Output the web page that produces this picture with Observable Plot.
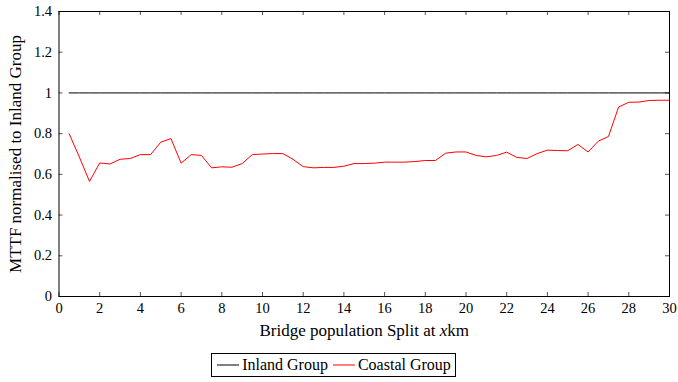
<!DOCTYPE html>
<html>
<head>
<meta charset="utf-8">
<script src="https://cdn.jsdelivr.net/npm/d3@7"></script>
<script src="https://cdn.jsdelivr.net/npm/@observablehq/plot@0.6"></script>
</head>
<body style="margin:0;background:#fff;font-family:'Liberation Serif'">
<div id="wrap" style="width:678px;font-family:'Liberation Serif'">
  <div id="chart"></div>
  <div id="legend" style="margin:13px 0 0 211px;width:243px;height:22px;border:1px solid #000;font-family:'Liberation Serif';display:flex;align-items:center;justify-content:center;font-size:16px;color:#000;gap:4px"></div>
</div>
<script>
const splitKm = [0.5, 1, 1.5, 2, 2.5, 3, 3.5, 4, 4.5, 5, 5.5, 6, 6.5, 7, 7.5, 8, 8.5, 9, 9.5, 10,
  10.5, 11, 11.5, 12, 12.5, 13, 13.5, 14, 14.5, 15, 15.5, 16, 16.5, 17, 17.5, 18, 18.5, 19, 19.5, 20,
  20.5, 21, 21.5, 22, 22.5, 23, 23.5, 24, 24.5, 25, 25.5, 26, 26.5, 27, 27.5, 28, 28.5, 29, 29.5, 30];
const inlandValues = splitKm.map(() => 1);
const coastalValues = [0.799, 0.685, 0.565, 0.656, 0.651, 0.674, 0.678, 0.697, 0.697, 0.758, 0.776, 0.655, 0.697, 0.693, 0.632, 0.637, 0.635, 0.653, 0.697, 0.700,
  0.702, 0.702, 0.674, 0.638, 0.632, 0.634, 0.634, 0.640, 0.653, 0.653, 0.655, 0.660, 0.660, 0.660, 0.663, 0.668, 0.668, 0.704, 0.710, 0.710,
  0.693, 0.686, 0.693, 0.709, 0.683, 0.678, 0.702, 0.719, 0.717, 0.716, 0.747, 0.710, 0.763, 0.786, 0.931, 0.954, 0.955, 0.963, 0.964, 0.964];
const seriesNames = ["Inland Group", "Coastal Group"];
const seriesColors = ["#000000", "#ff0000"];
const xTicks = [0, 2, 4, 6, 8, 10, 12, 14, 16, 18, 20, 22, 24, 26, 28, 30];
const yTicks = [0, 0.2, 0.4, 0.6, 0.8, 1, 1.2, 1.4];

const data = [];
splitKm.forEach((x, i) => {
  data.push({x, y: inlandValues[i], s: seriesNames[0]});
  data.push({x, y: coastalValues[i], s: seriesNames[1]});
});

const yTickLen = 4 / 203.6; // inward tick length in y units
const xTickLen = 4 / 20.37; // inward tick length in x units
const FONT = "Liberation Serif";

const chart = Plot.plot({
  width: 678,
  height: 340,
  marginTop: 11,
  marginBottom: 44,
  marginLeft: 58.5,
  marginRight: 9,
  style: { fontSize: "14.5px", color: "#000", background: "#fff" },
  x: { domain: [0, 30] },
  y: { domain: [0, 1.4] },
  color: { domain: seriesNames, range: seriesColors },
  marks: [
    Plot.ruleX(xTicks, { x: d => d, y1: 0, y2: yTickLen, stroke: "#555" }),
    Plot.ruleX(xTicks, { x: d => d, y1: 1.4 - yTickLen, y2: 1.4, stroke: "#555" }),
    Plot.ruleY(yTicks, { y: d => d, x1: 0, x2: xTickLen, stroke: "#555" }),
    Plot.ruleY(yTicks, { y: d => d, x1: 30 - xTickLen, x2: 30, stroke: "#555" }),
    Plot.line(data, { x: "x", y: "y", z: "s", stroke: "s", strokeWidth: 1 }),
    Plot.frame({ stroke: "#000", strokeWidth: 1 }),
    Plot.axisX({ ticks: xTicks, tickSize: 0, tickPadding: 6, fontSize: 14.5, tickFormat: d => String(d), label: null }),
    Plot.axisY({ ticks: yTicks, tickSize: 0, tickPadding: 7, fontSize: 14.5, tickFormat: d => String(d), label: null }),
    Plot.axisX({ ticks: [], tickSize: 0, fontSize: 17, label: "Bridge population Split at xkm",
      labelAnchor: "center", labelArrow: "none", labelOffset: 39 }),
    Plot.axisY({ ticks: [], tickSize: 0, fontSize: 17, label: "MTTF normalised to Inland Group",
      labelAnchor: "center", labelArrow: "none", labelOffset: 50 })
  ]
});
chart.setAttribute("font-family", FONT);
chart.style.fontFamily = FONT;
document.getElementById("chart").appendChild(chart);

d3.select(chart).selectAll("g, text, tspan").each(function() {
  this.setAttribute("font-family", FONT);
  this.style.fontFamily = FONT;
});

// italic x in the x-axis label
d3.select(chart).selectAll("text").each(function() {
  if (this.textContent === "Bridge population Split at xkm") {
    const t = d3.select(this);
    t.text(null);
    t.append("tspan").text("Bridge population Split at ");
    t.append("tspan").attr("font-style", "italic").text("x");
    t.append("tspan").text("km");
  }
});

const legend = d3.select("#legend");
seriesNames.forEach((n, i) => {
  const item = legend.append("div").style("display", "flex").style("align-items", "center");
  const s = item.append("svg").attr("width", 23).attr("height", 10).style("margin-right", "3px");
  s.append("line").attr("x1", 1).attr("x2", 23).attr("y1", 5).attr("y2", 5).attr("stroke", seriesColors[i]).attr("stroke-width", 1);
  item.append("span").style("font-family", FONT).text(n);
});
</script>
</body>
</html>
